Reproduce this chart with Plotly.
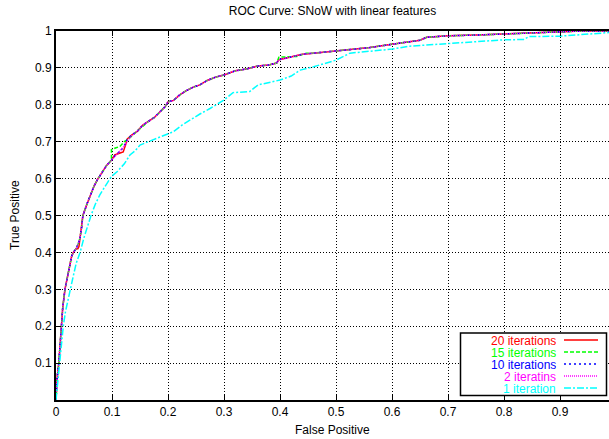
import plotly.graph_objects as go

# ---------------- data ----------------
fp_20 = [0, 0.002, 0.005, 0.007, 0.009, 0.012, 0.016, 0.022, 0.028, 0.031, 0.036, 0.039, 0.041, 0.043,
         0.046, 0.048, 0.055, 0.062, 0.068, 0.074, 0.083, 0.090, 0.099, 0.105, 0.112, 0.120, 0.124, 0.127,
         0.135, 0.145, 0.155, 0.165, 0.175, 0.185, 0.195, 0.200, 0.210, 0.221, 0.232, 0.245, 0.257, 0.270,
         0.285, 0.300, 0.320, 0.340, 0.360, 0.380, 0.394, 0.398, 0.420, 0.440, 0.460, 0.480, 0.500, 0.530,
         0.560, 0.600, 0.630, 0.650, 0.662, 0.700, 0.750, 0.800, 0.850, 0.900, 0.940, 0.990]
tp_20 = [0, 0.06, 0.10, 0.15, 0.20, 0.25, 0.30, 0.35, 0.39, 0.40, 0.41, 0.41, 0.416, 0.44,
         0.47, 0.50, 0.53, 0.56, 0.58, 0.597, 0.62, 0.635, 0.650, 0.664, 0.668, 0.672, 0.69, 0.707,
         0.718, 0.728, 0.745, 0.755, 0.765, 0.780, 0.795, 0.808, 0.812, 0.827, 0.838, 0.848, 0.854, 0.866,
         0.875, 0.881, 0.892, 0.897, 0.905, 0.908, 0.913, 0.922, 0.930, 0.937, 0.940, 0.943, 0.946, 0.950,
         0.955, 0.964, 0.970, 0.975, 0.983, 0.987, 0.989, 0.992, 0.995, 0.998, 1.0, 1.0]

fp_15 = [0, 0.002, 0.005, 0.007, 0.009, 0.012, 0.016, 0.022, 0.028, 0.031, 0.036, 0.040, 0.043,
         0.046, 0.048, 0.055, 0.062, 0.068, 0.074, 0.083, 0.090, 0.099, 0.099, 0.106, 0.114, 0.122,
         0.130, 0.137, 0.144, 0.155, 0.165, 0.175, 0.185, 0.195, 0.200, 0.210, 0.221, 0.232, 0.245, 0.257,
         0.270, 0.285, 0.300, 0.320, 0.340, 0.360, 0.380, 0.394, 0.398, 0.415, 0.430, 0.447, 0.460, 0.480,
         0.500, 0.530, 0.560, 0.600, 0.630, 0.650, 0.662, 0.700, 0.750, 0.800, 0.850, 0.900, 0.940, 0.990]
tp_15 = [0, 0.06, 0.10, 0.15, 0.20, 0.25, 0.30, 0.35, 0.39, 0.40, 0.41, 0.425, 0.44,
         0.47, 0.50, 0.53, 0.56, 0.58, 0.597, 0.62, 0.635, 0.650, 0.678, 0.683, 0.687, 0.700,
         0.708, 0.718, 0.727, 0.740, 0.755, 0.765, 0.780, 0.795, 0.808, 0.812, 0.827, 0.838, 0.848, 0.854,
         0.866, 0.875, 0.881, 0.892, 0.897, 0.905, 0.908, 0.913, 0.929, 0.930, 0.931, 0.940, 0.940, 0.943,
         0.946, 0.950, 0.955, 0.964, 0.970, 0.975, 0.983, 0.987, 0.989, 0.992, 0.995, 0.998, 1.0, 1.0]

fp_10 = [0, 0.002, 0.005, 0.007, 0.009, 0.012, 0.016, 0.022, 0.028, 0.031, 0.036, 0.040, 0.043,
         0.046, 0.048, 0.055, 0.062, 0.068, 0.074, 0.083, 0.090, 0.099, 0.105, 0.111, 0.117, 0.122,
         0.127, 0.135, 0.145, 0.155, 0.165, 0.175, 0.185, 0.195, 0.200, 0.210, 0.221, 0.232, 0.245, 0.257,
         0.270, 0.285, 0.300, 0.320, 0.340, 0.360, 0.380, 0.394, 0.398, 0.420, 0.440, 0.460, 0.480, 0.500,
         0.530, 0.560, 0.600, 0.630, 0.650, 0.662, 0.700, 0.750, 0.800, 0.850, 0.900, 0.940, 0.990]
tp_10 = [0, 0.06, 0.10, 0.15, 0.20, 0.25, 0.30, 0.35, 0.39, 0.40, 0.41, 0.425, 0.44,
         0.47, 0.50, 0.53, 0.56, 0.58, 0.597, 0.62, 0.635, 0.650, 0.662, 0.670, 0.678, 0.690,
         0.705, 0.718, 0.728, 0.745, 0.755, 0.765, 0.780, 0.795, 0.808, 0.812, 0.827, 0.838, 0.848, 0.854,
         0.866, 0.875, 0.881, 0.892, 0.897, 0.905, 0.908, 0.913, 0.922, 0.930, 0.937, 0.940, 0.943, 0.946,
         0.950, 0.955, 0.964, 0.970, 0.975, 0.983, 0.987, 0.989, 0.992, 0.995, 0.998, 1.0, 1.0]

fp_2 = [0, 0.002, 0.005, 0.007, 0.009, 0.012, 0.016, 0.022, 0.028, 0.031, 0.036, 0.040, 0.043,
        0.046, 0.048, 0.055, 0.062, 0.068, 0.074, 0.083, 0.090, 0.099, 0.105, 0.110, 0.116, 0.122,
        0.128, 0.135, 0.145, 0.155, 0.165, 0.175, 0.185, 0.195, 0.200, 0.210, 0.221, 0.232, 0.245, 0.257,
        0.270, 0.285, 0.300, 0.320, 0.340, 0.360, 0.380, 0.394, 0.398, 0.420, 0.440, 0.460, 0.480, 0.500,
        0.530, 0.560, 0.600, 0.630, 0.650, 0.662, 0.700, 0.750, 0.800, 0.850, 0.900, 0.940, 0.990]
tp_2 = [0, 0.06, 0.10, 0.15, 0.20, 0.25, 0.30, 0.35, 0.39, 0.40, 0.41, 0.425, 0.44,
        0.47, 0.50, 0.53, 0.56, 0.58, 0.597, 0.62, 0.635, 0.650, 0.660, 0.667, 0.676, 0.688,
        0.703, 0.716, 0.728, 0.745, 0.755, 0.765, 0.780, 0.795, 0.808, 0.812, 0.827, 0.838, 0.848, 0.854,
        0.866, 0.875, 0.881, 0.892, 0.897, 0.905, 0.908, 0.913, 0.922, 0.930, 0.937, 0.940, 0.943, 0.946,
        0.950, 0.955, 0.964, 0.970, 0.975, 0.983, 0.987, 0.989, 0.992, 0.995, 0.998, 1.0, 1.0]

fp_1 = [0, 0.003, 0.007, 0.010, 0.013, 0.017, 0.021, 0.026, 0.030, 0.036, 0.043, 0.050, 0.056,
        0.0625, 0.070, 0.078, 0.086, 0.095, 0.099, 0.110, 0.122, 0.132, 0.141, 0.150, 0.165, 0.180,
        0.195, 0.2095, 0.225, 0.240, 0.257, 0.275, 0.300, 0.316, 0.346, 0.361, 0.380, 0.400, 0.420,
        0.436, 0.460, 0.480, 0.500, 0.525, 0.560, 0.600, 0.632, 0.660, 0.700, 0.750, 0.800, 0.835,
        0.845, 0.900, 0.950, 0.990]
tp_1 = [0, 0.05, 0.10, 0.15, 0.20, 0.24, 0.27, 0.30, 0.33, 0.37, 0.40, 0.44, 0.47,
        0.50, 0.53, 0.555, 0.575, 0.597, 0.606, 0.620, 0.640, 0.664, 0.675, 0.691, 0.700, 0.710,
        0.720, 0.727, 0.745, 0.760, 0.775, 0.790, 0.813, 0.833, 0.836, 0.854, 0.860, 0.867, 0.878,
        0.894, 0.903, 0.912, 0.921, 0.940, 0.945, 0.951, 0.959, 0.962, 0.967, 0.971, 0.976, 0.977,
        0.985, 0.986, 0.991, 0.996]

series_names = ["20 iterations", "15 iterations", "10 iterations", "2 iteratins", "1 iteration"]
series_colors = ["#ff0000", "#00ff00", "#0000ff", "#ff00ff", "#00ffff"]
series_dash = ["solid", "4px,2px", "2px,3px", "1px,1px", "7px,2px,2px,2px"]

x_ticks = [0, 0.1, 0.2, 0.3, 0.4, 0.5, 0.6, 0.7, 0.8, 0.9]
x_tick_labels = ["0", "0.1", "0.2", "0.3", "0.4", "0.5", "0.6", "0.7", "0.8", "0.9"]
y_ticks = [0.1, 0.2, 0.3, 0.4, 0.5, 0.6, 0.7, 0.8, 0.9, 1.0]
y_tick_labels = ["0.1", "0.2", "0.3", "0.4", "0.5", "0.6", "0.7", "0.8", "0.9", "1"]

# ---------------- figure ----------------
FONT = "Liberation Sans, Arial, Helvetica, sans-serif"
W, H = 609, 439
ML, MR, MT, MB = 56, 0, 31, 39
PW, PH = W - ML - MR, H - MT - MB

fig = go.Figure()
data = [(fp_20, tp_20), (fp_15, tp_15), (fp_10, tp_10), (fp_2, tp_2), (fp_1, tp_1)]
for (xs, ys), name, col, dash in zip(data, series_names, series_colors, series_dash):
    fig.add_trace(go.Scatter(x=xs, y=ys, mode="lines", name=name,
                             line=dict(color=col, width=1.5, dash=dash),
                             showlegend=False, hoverinfo="skip"))


def px_to_paper_x(px):
    return (px - ML) / PW


def px_to_paper_y(py):
    return (H - MB - py) / PH


# legend drawn in gnuplot style (text right-aligned, sample line to the right)
fig.add_shape(type="rect", xref="paper", yref="paper",
              x0=px_to_paper_x(460.5), x1=px_to_paper_x(606.5),
              y0=px_to_paper_y(395.5), y1=px_to_paper_y(333),
              line=dict(color="black", width=1.5), fillcolor="white", layer="above")
row_y = [340, 352, 364, 376, 388]
for name, col, dash, ry in zip(series_names, series_colors, series_dash, row_y):
    fig.add_annotation(x=px_to_paper_x(557), y=px_to_paper_y(ry), xref="paper", yref="paper",
                       text=name, showarrow=False, xanchor="right", yanchor="middle",
                       height=11, borderpad=0,
                       font=dict(family=FONT, size=12, color=col))
    fig.add_shape(type="line", xref="paper", yref="paper",
                  x0=px_to_paper_x(564), x1=px_to_paper_x(598),
                  y0=px_to_paper_y(ry), y1=px_to_paper_y(ry),
                  line=dict(color=col, width=1.5, dash=dash), layer="above")

# axis titles
fig.add_annotation(x=px_to_paper_x(332), y=px_to_paper_y(430), xref="paper", yref="paper",
                   text="False Positive", showarrow=False, xanchor="center", yanchor="middle",
                   font=dict(family=FONT, size=12, color="black"))
fig.add_annotation(x=px_to_paper_x(15), y=px_to_paper_y(215), xref="paper", yref="paper",
                   text="True Positive", showarrow=False, xanchor="center", yanchor="middle",
                   textangle=-90, font=dict(family=FONT, size=12, color="black"))

fig.update_layout(
    width=W, height=H,
    margin=dict(l=ML, r=MR, t=MT, b=MB, pad=0, autoexpand=False),
    paper_bgcolor="white", plot_bgcolor="white",
    font=dict(family=FONT, size=12, color="black"),
    title=dict(text="ROC Curve: SNoW with linear features", x=(ML + PW / 2) / W, xanchor="center",
               y=1 - 11 / H, yanchor="middle", font=dict(family=FONT, size=12, color="black")),
    xaxis=dict(range=[0, PW / 560], tickvals=x_ticks, ticktext=x_tick_labels, automargin=False,
               showgrid=True, gridcolor="black", griddash="1px,2px", gridwidth=1,
               zeroline=False, showline=True, linecolor="black", linewidth=2, mirror="ticks",
               ticks="inside", ticklen=5, tickcolor="black", tickfont=dict(size=12)),
    yaxis=dict(range=[0, 1], tickvals=y_ticks, ticktext=y_tick_labels, automargin=False,
               showgrid=True, gridcolor="black", griddash="1px,2px", gridwidth=1,
               zeroline=False, showline=True, linecolor="black", linewidth=2, mirror=False,
               ticks="inside", ticklen=5, tickcolor="black", tickfont=dict(size=12)),
)

# remove the default 8px page margin so the figure fills the window exactly
fig.write_html("out.html", config={"displayModeBar": False},
               post_script="document.body.style.margin='0';document.body.style.overflow='hidden';")
